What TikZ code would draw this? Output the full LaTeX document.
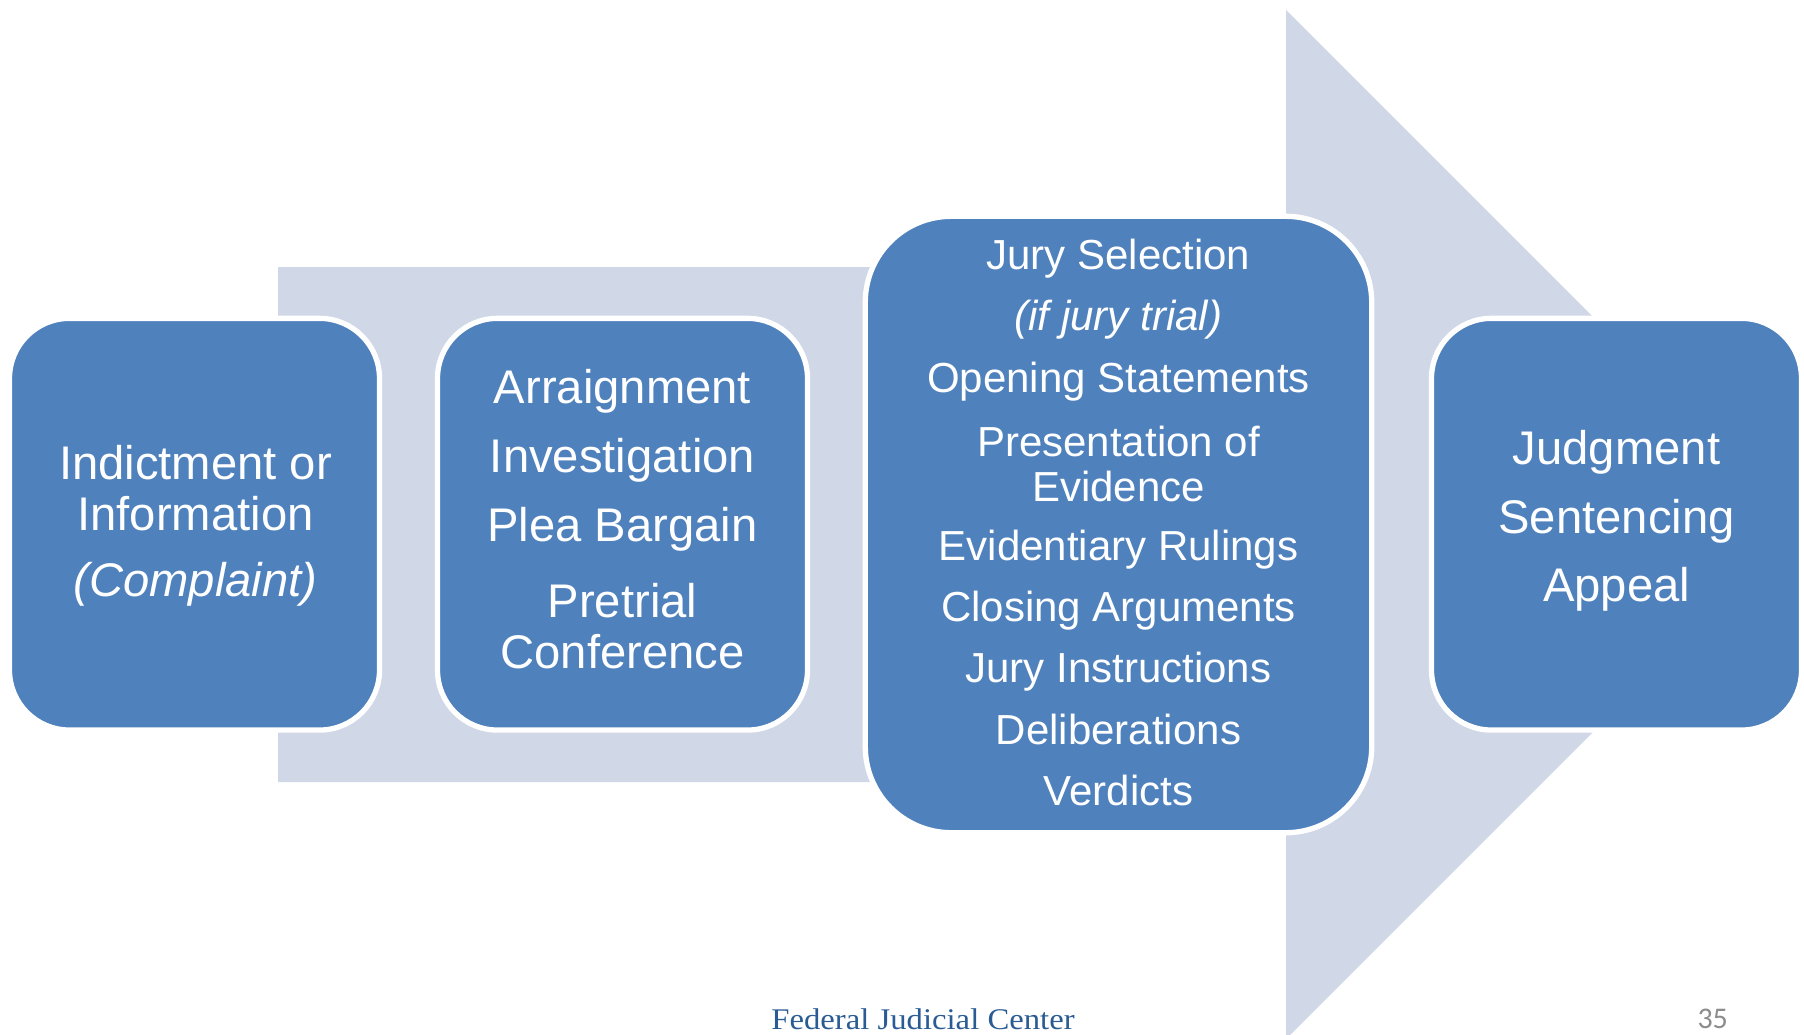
\documentclass[tikz,border=0pt]{standalone}
\usepackage{fontspec}
\usepackage{graphicx}
\setmainfont{Liberation Sans}
\newfontfamily\footfont{Liberation Serif}
\newfontfamily\numfont{Carlito}
\definecolor{boxblue}{HTML}{4F81BD}
\definecolor{arrowbg}{HTML}{D0D8E8}
\definecolor{footblue}{HTML}{2A5C93}
\definecolor{pagegrey}{HTML}{8C8C8C}
\tikzset{
  stage/.style={draw=white, line width=2.65pt, fill=boxblue, rounded corners=30pt,
    minimum width=185pt, minimum height=205.85pt, inner sep=0pt},
  bigstage/.style={stage, rounded corners=43pt, minimum width=253.2pt, minimum height=308.2pt},
  lbl/.style={text=white, anchor=base, inner sep=0pt, font=\fontsize{23.6}{25}\selectfont},
  slbl/.style={text=white, anchor=base, inner sep=0pt, font=\fontsize{21}{23}\selectfont}
}
\begin{document}
\begin{tikzpicture}[x=0.5pt,y=-0.5pt]
\useasboundingbox (0,0) rectangle (1804,1034);
\clip (0,0) rectangle (1804,1034);
% background arrow
\fill[arrowbg] (278,267) -- (1286,267) -- (1286,10) -- (1800.5,524.5) -- (1286,1039) -- (1286,782) -- (278,782) -- cycle;
% stages
\node[stage] (b1) at (194.5,524.2) {};
\node[stage] (b2) at (622.5,524.2) {};
\node[bigstage] (b3) at (1118.5,524.5) {};
\node[stage] (b4) at (1616.5,524.2) {};
% box 1 text
\node[lbl] (b1a) at (195.5,479.3) {Indictment or};
\node[lbl] (b1b) at (195.5,530) {Information};
\node[lbl] (b1c) at (195.5,596.7) {\itshape (Complaint)};
% box 2 text
\node[lbl] (b2a) at (622.5,403.3) {Arraignment};
\node[lbl] (b2b) at (622.5,472.7) {Investigation};
\node[lbl] (b2c) at (622.5,541) {Plea Bargain};
\node[lbl] (b2d) at (622.5,617.3) {Pretrial};
\node[lbl] (b2e) at (622.5,668.3) {Conference};
% box 3 text
\node[slbl] (b3a) at (1118.5,269.3) {Jury Selection};
\node[slbl] (b3b) at (1118.5,330) {\itshape (if jury trial)};
\node[slbl] (b3c) at (1118.5,392.3) {Opening Statements};
\node[slbl] (b3d) at (1118.5,456.7) {Presentation of};
\node[slbl] (b3e) at (1118.5,501.7) {Evidence};
\node[slbl] (b3f) at (1118.5,560.7) {Evidentiary Rulings};
\node[slbl] (b3g) at (1118.5,621.7) {Closing Arguments};
\node[slbl] (b3h) at (1118.5,682.7) {Jury Instructions};
\node[slbl] (b3i) at (1118.5,744) {Deliberations};
\node[slbl] (b3j) at (1118.5,805) {Verdicts};
% box 4 text
\node[lbl] (b4a) at (1616.5,464) {Judgment};
\node[lbl] (b4b) at (1616.5,533) {Sentencing};
\node[lbl] (b4c) at (1616.5,601) {Appeal};
% footer
\node[anchor=base, inner sep=0pt, text=footblue, font=\footfont\fontsize{15}{15}\selectfont] (foot) at (923,1029) {\scalebox{1.09}[1]{Federal Judicial Center}};
\node[anchor=base, inner sep=0pt, text=pagegrey, font=\numfont\fontsize{15}{15}\selectfont] (page) at (1712.7,1028.5) {35};
\end{tikzpicture}
\end{document}
